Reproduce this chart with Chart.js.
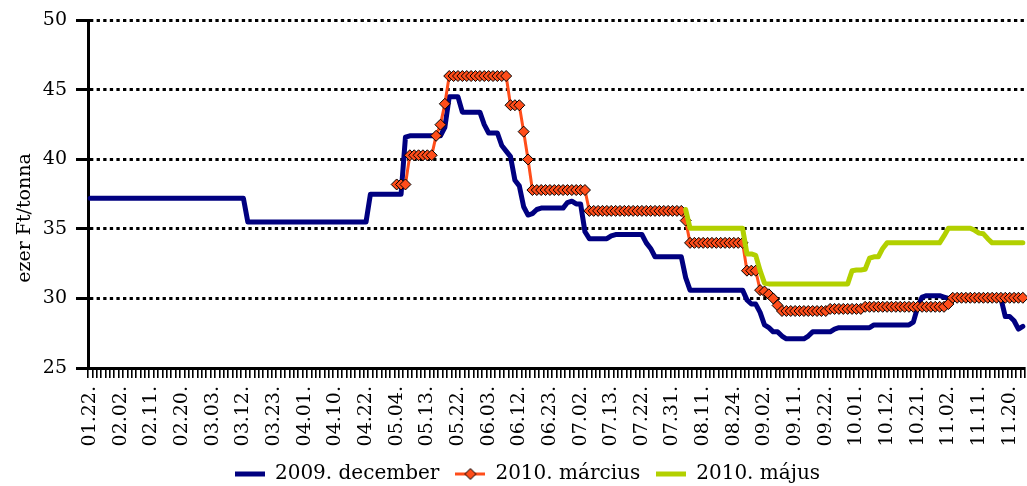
<!DOCTYPE html>
<html>
<head>
<meta charset="utf-8">
<script src="https://cdn.jsdelivr.net/npm/chart.js@4.4.1/dist/chart.umd.min.js"></script>
<style>
  html, body { margin: 0; padding: 0; background: #fff; }
  #wrap { width: 1027px; height: 486px; }
</style>
</head>
<body>
<div id="wrap"><canvas id="priceChart" width="1027" height="486"></canvas></div>
<script>
const FONT = "'DejaVu Serif', serif";

// tick labels, one every 7 trading days
const tickLabels = ['01.22.', '02.02.', '02.11.', '02.20.', '03.03.', '03.12.', '03.23.', '04.01.',
    '04.10.', '04.22.', '05.04.', '05.13.', '05.22.', '06.03.', '06.12.', '06.23.', '07.02.',
    '07.13.', '07.22.', '07.31.', '08.11.', '08.24.', '09.02.', '09.11.', '09.22.', '10.01.',
    '10.12.', '10.21.', '11.02.', '11.11.', '11.20.'];

const seriesNames = ['2009. december', '2010. március', '2010. május'];
const yTitleText = 'ezer Ft/tonna';

// 2009. december (thousand Ft / tonne)
const dec2009 = [
    37.2, 37.2, 37.2, 37.2, 37.2, 37.2, 37.2, 37.2, 37.2, 37.2,
    37.2, 37.2, 37.2, 37.2, 37.2, 37.2, 37.2, 37.2, 37.2, 37.2,
    37.2, 37.2, 37.2, 37.2, 37.2, 37.2, 37.2, 37.2, 37.2, 37.2,
    37.2, 37.2, 37.2, 37.2, 37.2, 37.2, 35.5, 35.5, 35.5, 35.5,
    35.5, 35.5, 35.5, 35.5, 35.5, 35.5, 35.5, 35.5, 35.5, 35.5,
    35.5, 35.5, 35.5, 35.5, 35.5, 35.5, 35.5, 35.5, 35.5, 35.5,
    35.5, 35.5, 35.5, 35.5, 37.5, 37.5, 37.5, 37.5, 37.5, 37.5,
    37.5, 37.5, 41.6, 41.7, 41.7, 41.7, 41.7, 41.7, 41.7, 41.7,
    41.7, 42.3, 44.5, 44.5, 44.5, 43.4, 43.4, 43.4, 43.4, 43.4,
    42.5, 41.9, 41.9, 41.9, 41.0, 40.6, 40.2, 38.5, 38.1, 36.6,
    36.0, 36.1, 36.4, 36.5, 36.5, 36.5, 36.5, 36.5, 36.5, 36.9,
    37.0, 36.8, 36.8, 34.8, 34.3, 34.3, 34.3, 34.3, 34.3, 34.5,
    34.6, 34.6, 34.6, 34.6, 34.6, 34.6, 34.6, 34.0, 33.6, 33.0,
    33.0, 33.0, 33.0, 33.0, 33.0, 33.0, 31.5, 30.6, 30.6, 30.6,
    30.6, 30.6, 30.6, 30.6, 30.6, 30.6, 30.6, 30.6, 30.6, 30.6,
    29.9, 29.6, 29.6, 29.0, 28.1, 27.9, 27.6, 27.6, 27.3, 27.1,
    27.1, 27.1, 27.1, 27.1, 27.3, 27.6, 27.6, 27.6, 27.6, 27.6,
    27.8, 27.9, 27.9, 27.9, 27.9, 27.9, 27.9, 27.9, 27.9, 28.1,
    28.1, 28.1, 28.1, 28.1, 28.1, 28.1, 28.1, 28.1, 28.3, 29.4,
    30.1, 30.2, 30.2, 30.2, 30.2, 30.1, 30.0, 30.0, 30.1, 30.1,
    30.1, 30.1, 30.1, 30.1, 30.1, 30.1, 30.1, 30.1, 30.0, 28.7,
    28.7, 28.4, 27.8, 28.0
];

// 2010. március
const mar2010 = [
    null, null, null, null, null, null, null, null, null, null,
    null, null, null, null, null, null, null, null, null, null,
    null, null, null, null, null, null, null, null, null, null,
    null, null, null, null, null, null, null, null, null, null,
    null, null, null, null, null, null, null, null, null, null,
    null, null, null, null, null, null, null, null, null, null,
    null, null, null, null, null, null, null, null, null, null,
    38.2, 38.2, 38.2, 40.3, 40.3, 40.3, 40.3, 40.3, 40.3, 41.7,
    42.5, 44.0, 46.0, 46.0, 46.0, 46.0, 46.0, 46.0, 46.0, 46.0,
    46.0, 46.0, 46.0, 46.0, 46.0, 46.0, 43.9, 43.9, 43.9, 42.0,
    40.0, 37.8, 37.8, 37.8, 37.8, 37.8, 37.8, 37.8, 37.8, 37.8,
    37.8, 37.8, 37.8, 37.8, 36.3, 36.3, 36.3, 36.3, 36.3, 36.3,
    36.3, 36.3, 36.3, 36.3, 36.3, 36.3, 36.3, 36.3, 36.3, 36.3,
    36.3, 36.3, 36.3, 36.3, 36.3, 36.3, 35.6, 34.0, 34.0, 34.0,
    34.0, 34.0, 34.0, 34.0, 34.0, 34.0, 34.0, 34.0, 34.0, 34.0,
    32.0, 32.0, 32.0, 30.6, 30.5, 30.3, 30.0, 29.5, 29.1, 29.1,
    29.1, 29.1, 29.1, 29.1, 29.1, 29.1, 29.1, 29.1, 29.1, 29.25,
    29.25, 29.25, 29.25, 29.25, 29.25, 29.25, 29.25, 29.4, 29.4, 29.4,
    29.4, 29.4, 29.4, 29.4, 29.4, 29.4, 29.4, 29.4, 29.4, 29.4,
    29.4, 29.4, 29.4, 29.4, 29.4, 29.4, 29.6, 30.05, 30.05, 30.05,
    30.05, 30.05, 30.05, 30.05, 30.05, 30.05, 30.05, 30.05, 30.05, 30.05,
    30.05, 30.05, 30.05, 30.05
];

// 2010. május
const may2010 = [
    null, null, null, null, null, null, null, null, null, null,
    null, null, null, null, null, null, null, null, null, null,
    null, null, null, null, null, null, null, null, null, null,
    null, null, null, null, null, null, null, null, null, null,
    null, null, null, null, null, null, null, null, null, null,
    null, null, null, null, null, null, null, null, null, null,
    null, null, null, null, null, null, null, null, null, null,
    null, null, null, null, null, null, null, null, null, null,
    null, null, null, null, null, null, null, null, null, null,
    null, null, null, null, null, null, null, null, null, null,
    null, null, null, null, null, null, null, null, null, null,
    null, null, null, null, null, null, null, null, null, null,
    null, null, null, null, null, null, null, null, null, null,
    null, null, null, null, null, null, 36.4, 35.05, 35.05, 35.05,
    35.05, 35.05, 35.05, 35.05, 35.05, 35.05, 35.05, 35.05, 35.05, 35.05,
    33.2, 33.2, 33.1, 32.0, 31.1, 31.05, 31.05, 31.05, 31.05, 31.05,
    31.05, 31.05, 31.05, 31.05, 31.05, 31.05, 31.05, 31.05, 31.05, 31.05,
    31.05, 31.05, 31.05, 31.05, 32.0, 32.05, 32.05, 32.1, 32.9, 33.0,
    33.0, 33.6, 34.0, 34.0, 34.0, 34.0, 34.0, 34.0, 34.0, 34.0,
    34.0, 34.0, 34.0, 34.0, 34.0, 34.5, 35.05, 35.05, 35.05, 35.05,
    35.05, 35.05, 34.9, 34.7, 34.65, 34.3, 34.0, 34.0, 34.0, 34.0,
    34.0, 34.0, 34.0, 34.0
];

const days = dec2009.map((_, i) => i);

const BLUE = '#000080';
const ORANGE = '#ff4d1a';
const GREEN = '#b2d000';

// little canvases used as legend symbols
function legendSample(color, width, withDiamond) {
    const c = document.createElement('canvas');
    c.width = 30;
    c.height = 14;
    const g = c.getContext('2d');
    g.strokeStyle = color;
    g.lineWidth = width;
    g.beginPath();
    g.moveTo(0, 7);
    g.lineTo(30, 7);
    g.stroke();
    if (withDiamond) {
        g.fillStyle = color;
        g.strokeStyle = '#000';
        g.lineWidth = 1;
        g.beginPath();
        g.moveTo(15, 1.5);
        g.lineTo(20.5, 7);
        g.lineTo(15, 12.5);
        g.lineTo(9.5, 7);
        g.closePath();
        g.fill();
        g.stroke();
    }
    return c;
}
const legendSamples = [legendSample(BLUE, 5, false), legendSample(ORANGE, 3, true), legendSample(GREEN, 5, false)];

// rotated y-axis title, placed like in the original
const yTitlePlugin = {
    id: 'yTitle',
    afterDraw(chart) {
        const ctx = chart.ctx;
        ctx.save();
        ctx.translate(25, 218);
        ctx.rotate(-Math.PI / 2);
        ctx.font = `19px ${FONT}`;
        ctx.fillStyle = '#000';
        ctx.textAlign = 'center';
        ctx.textBaseline = 'middle';
        ctx.fillText(yTitleText, 0, 0);
        ctx.restore();
    }
};

const ctx = document.getElementById('priceChart').getContext('2d');
new Chart(ctx, {
    type: 'line',
    data: {
        labels: days,
        datasets: [
            {
                label: seriesNames[0],
                data: dec2009,
                borderColor: BLUE,
                backgroundColor: BLUE,
                borderWidth: 5,
                pointRadius: 0,
                borderJoinStyle: 'round',
                borderCapStyle: 'round',
                order: 3
            },
            {
                label: seriesNames[1],
                data: mar2010,
                borderColor: ORANGE,
                backgroundColor: ORANGE,
                borderWidth: 3,
                pointStyle: 'rectRot',
                pointRadius: 5.5,
                pointBackgroundColor: ORANGE,
                pointBorderColor: '#000',
                pointBorderWidth: 1,
                order: 2
            },
            {
                label: seriesNames[2],
                data: may2010,
                borderColor: GREEN,
                backgroundColor: GREEN,
                borderWidth: 5,
                pointRadius: 0,
                borderJoinStyle: 'round',
                borderCapStyle: 'round',
                order: 1
            }
        ]
    },
    options: {
        responsive: false,
        animation: false,
        devicePixelRatio: 1,
        layout: {
            autoPadding: false,
            padding: { left: 30, right: 2, top: 18, bottom: -8 }
        },
        plugins: {
            tooltip: { enabled: false },
            legend: {
                position: 'bottom',
                labels: {
                    usePointStyle: true,
                    pointStyleWidth: 30,
                    color: '#000',
                    font: { family: FONT, size: 20 },
                    padding: 16,
                    sort: (a, b) => a.datasetIndex - b.datasetIndex,
                    generateLabels: chart => Chart.defaults.plugins.legend.labels.generateLabels(chart)
                        .map(item => ({ ...item, pointStyle: legendSamples[item.datasetIndex] }))
                }
            }
        },
        scales: {
            x: {
                type: 'category',
                offset: true,
                grid: {
                    display: true,
                    drawOnChartArea: false,
                    drawTicks: true,
                    offset: true,
                    color: '#000',
                    lineWidth: 1.6,
                    tickLength: 10,
                    tickWidth: 1.6,
                    tickColor: '#000'
                },
                border: { display: true, color: '#000', width: 3 },
                ticks: {
                    autoSkip: false,
                    minRotation: 90,
                    maxRotation: 90,
                    padding: 8,
                    color: '#000',
                    font: { family: FONT, size: 19 },
                    callback: (value, index) => index % 7 === 0 ? tickLabels[index / 7] : ''
                },
                afterFit: scale => {
                    scale.height = 126 - scale.chart.legend.height;
                    scale.paddingLeft = 0;
                    scale.paddingRight = 0;
                }
            },
            y: {
                min: 25,
                max: 50,
                ticks: {
                    stepSize: 5,
                    padding: 9,
                    color: '#000',
                    font: { family: FONT, size: 19 }
                },
                grid: {
                    color: '#000',
                    lineWidth: 3,
                    tickLength: 12,
                    tickWidth: 3,
                    tickColor: '#000',
                    tickBorderDash: []
                },
                border: { display: true, color: '#000', width: 3, dash: [3.3, 3.3] },
                afterFit: scale => { scale.width = 58; }
            }
        }
    },
    plugins: [yTitlePlugin]
});
</script>
</body>
</html>
